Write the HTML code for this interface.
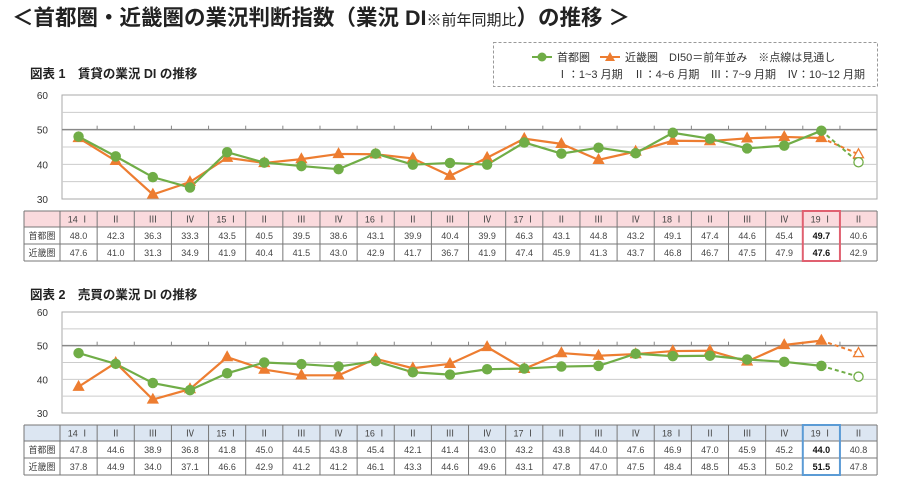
<!DOCTYPE html>
<html><head><meta charset="utf-8"><style>
body{margin:0;background:#fff;width:901px;height:485px;overflow:hidden;font-family:"Liberation Sans","Noto Sans CJK JP",sans-serif}
svg text{font-family:"Liberation Sans","Noto Sans CJK JP",sans-serif}
</style></head><body>
<svg id="s" width="901" height="485" xmlns="http://www.w3.org/2000/svg"></svg>
<script>
const S=document.getElementById('s');let h='';
const G='#70ad47',O='#ed7d31';
h+=`<text x="12" y="25" font-size="21.5" font-weight="bold" fill="#222">＜首都圏・近畿圏の業況判断指数（業況 DI<tspan font-size="15" font-weight="normal">※前年同期比</tspan>）の推移 ＞</text>`;
h+=`<rect x="493.5" y="42.5" width="384" height="44" fill="none" stroke="#999" stroke-dasharray="3,2"/>`;
h+=`<line x1="532" y1="57" x2="552" y2="57" stroke="${G}" stroke-width="2"/><circle cx="542" cy="57" r="4.5" fill="${G}"/><text x="557" y="61" font-size="11" fill="#333">首都圏</text>`;
h+=`<line x1="600" y1="57" x2="620" y2="57" stroke="${O}" stroke-width="2"/><polygon points="610,52 615,61 605,61" fill="${O}"/><text x="625" y="61" font-size="11" fill="#333">近畿圏　DI50＝前年並み　※点線は見通し</text>`;
h+=`<text x="865" y="78" font-size="11" fill="#333" text-anchor="end">Ⅰ：1~3 月期　Ⅱ：4~6 月期　Ⅲ：7~9 月期　Ⅳ：10~12 月期</text>`;
h+=`<text x="30" y="78" font-size="12.5" font-weight="bold" fill="#222">図表 1　賃貸の業況 DI の推移</text>`;
h+=`<text x="30" y="299" font-size="12.5" font-weight="bold" fill="#222">図表 2　売買の業況 DI の推移</text>`;
const hd=['14 Ⅰ','Ⅱ','Ⅲ','Ⅳ','15 Ⅰ','Ⅱ','Ⅲ','Ⅳ','16 Ⅰ','Ⅱ','Ⅲ','Ⅳ','17 Ⅰ','Ⅱ','Ⅲ','Ⅳ','18 Ⅰ','Ⅱ','Ⅲ','Ⅳ','19 Ⅰ','Ⅱ'];
const cw=37.14,x0=60;const cx=i=>x0+cw*(i+0.5);
function chart(yt,yb,tk,tos,hbg,hl,ty){
  const py=v=>yt+(60-v)/30*(yb-yt);
  h+=`<rect x="62" y="${yt}" width="815" height="${yb-yt}" fill="#fff" stroke="#aaa"/>`;
  for(let v=35;v<60;v+=5){h+=`<line x1="62" x2="877" y1="${py(v)}" y2="${py(v)}" stroke="${v==50?'#888':'#ccc'}" stroke-width="${v==50?1.5:1}"/>`;}
  for(let i=1;i<22;i++){const x=x0+cw*i;h+=`<line x1="${x}" x2="${x}" y1="${py(50)-4}" y2="${py(50)}" stroke="#888"/>`;}
  [60,50,40,30].forEach(v=>h+=`<text x="48" y="${py(v)+4}" font-size="10" fill="#333" text-anchor="end">${v}</text>`);
  const line=(d,c)=>{let p=d.slice(0,21).map((v,i)=>cx(i)+','+py(v)).join(' ');h+=`<polyline points="${p}" fill="none" stroke="${c}" stroke-width="2.2"/>`;h+=`<line x1="${cx(20)}" y1="${py(d[20])}" x2="${cx(21)}" y2="${py(d[21])}" stroke="${c}" stroke-width="2" stroke-dasharray="4,3"/>`;};
  line(tos,O);line(tk,G);
  tos.forEach((v,i)=>{const x=cx(i),y=py(v);h+=`<polygon points="${x},${y-5.5} ${x+5},${y+3.5} ${x-5},${y+3.5}" fill="${i==21?'#fff':O}" stroke="${O}" stroke-width="1.3"/>`;});
  tk.forEach((v,i)=>{h+=`<circle cx="${cx(i)}" cy="${py(v)}" r="4.6" fill="${i==21?'#fff':G}" stroke="${G}" stroke-width="1.3"/>`;});
  const ys=[ty,ty+16,ty+33,ty+50];
  h+=`<rect x="24" y="${ty}" width="853" height="16" fill="${hbg}"/>`;
  for(let r=0;r<4;r++)h+=`<line x1="24" x2="877" y1="${ys[r]}" y2="${ys[r]}" stroke="#777"/>`;
  h+=`<line x1="24" x2="24" y1="${ty}" y2="${ty+50}" stroke="#777"/>`;
  for(let i=0;i<=22;i++){const x=x0+cw*i;h+=`<line x1="${x}" x2="${x}" y1="${ty}" y2="${ty+50}" stroke="#777"/>`;}
  ['首都圏','近畿圏'].forEach((t,r)=>h+=`<text x="42" y="${ys[r+1]+12}" font-size="9" fill="#444" text-anchor="middle">${t}</text>`);
  hd.forEach((t,i)=>h+=`<text x="${cx(i)}" y="${ty+11.5}" font-size="9" fill="#444" text-anchor="middle">${t}</text>`);
  [tk,tos].forEach((d,r)=>d.forEach((v,i)=>h+=`<text x="${cx(i)}" y="${ys[r+1]+12}" font-size="9" fill="${i==20?'#111':'#444'}" font-weight="${i==20?'bold':'normal'}" text-anchor="middle">${v.toFixed(1)}</text>`));
  h+=`<rect x="${x0+cw*20}" y="${ty}" width="${cw}" height="50" fill="none" stroke="${hl}" stroke-width="2"/>`;
}
chart(95,199,[48.0,42.3,36.3,33.3,43.5,40.5,39.5,38.6,43.1,39.9,40.4,39.9,46.3,43.1,44.8,43.2,49.1,47.4,44.6,45.4,49.7,40.6],
[47.6,41.0,31.3,34.9,41.9,40.4,41.5,43.0,42.9,41.7,36.7,41.9,47.4,45.9,41.3,43.7,46.8,46.7,47.5,47.9,47.6,42.9],'#fadadd','#e06070',211);
chart(312,413,[47.8,44.6,38.9,36.8,41.8,45.0,44.5,43.8,45.4,42.1,41.4,43.0,43.2,43.8,44.0,47.6,46.9,47.0,45.9,45.2,44.0,40.8],
[37.8,44.9,34.0,37.1,46.6,42.9,41.2,41.2,46.1,43.3,44.6,49.6,43.1,47.8,47.0,47.5,48.4,48.5,45.3,50.2,51.5,47.8],'#dce6f2','#5b9bd5',425);
S.innerHTML=h;
</script>
</body></html>
